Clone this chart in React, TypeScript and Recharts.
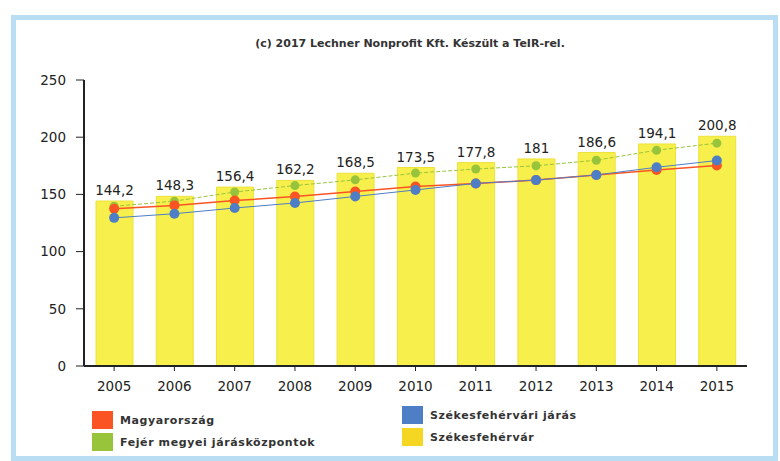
import { ComposedChart, Bar, Line, XAxis, YAxis, LabelList } from 'recharts'

const years = ['2005', '2006', '2007', '2008', '2009', '2010', '2011', '2012', '2013', '2014', '2015']
// Székesfehérvár (bars)
const szekesfehervar = [144.2, 148.3, 156.4, 162.2, 168.5, 173.5, 177.8, 181, 186.6, 194.1, 200.8]
// Fejér megyei járásközpontok
const fejer = [139.6, 144.1, 152.1, 157.7, 162.7, 168.6, 172.2, 175, 179.9, 188.6, 194.8]
// Magyarország
const magyarorszag = [137.4, 140.4, 144.6, 148.1, 152.5, 156.9, 159.6, 162.5, 167, 171.4, 175.2]
// Székesfehérvári járás
const jaras = [129.5, 133.1, 138.1, 142.5, 148.2, 153.9, 159.6, 162.5, 167, 173.7, 179.6]
const yTicks = [0, 50, 100, 150, 200, 250]

const data = years.map((y, i) => ({
  year: y,
  szfv: szekesfehervar[i],
  fejer: fejer[i],
  hu: magyarorszag[i],
  jaras: jaras[i],
}))

const FONT = '"DejaVu Sans", Verdana, sans-serif'
const RED = '#fb5424'
const GREEN = '#98c43c'
const BLUE = '#4d7ec6'
const BAR = '#f7ef4c'

const fmt = (v: number) => String(v).replace('.', ',')

function LegendItem({ x, y, color, label }: { x: number; y: number; color: string; label: string }) {
  return (
    <div style={{ position: 'absolute', left: x, top: y, display: 'flex', alignItems: 'center' }}>
      <span style={{ width: 21, height: 18, background: color, display: 'inline-block' }} />
      <span style={{ marginLeft: 7, fontSize: 11, fontWeight: 'bold', letterSpacing: 0.6, color: '#333' }}>{label}</span>
    </div>
  )
}

export default function App() {
  return (
    <div style={{ position: 'absolute', left: 0, top: 0, width: 780, height: 461, background: '#fff', fontFamily: FONT, overflow: 'hidden' }}>
      {/* scanned frame */}
      <div style={{ position: 'absolute', left: 11, top: 15, width: 757, height: 436, border: '5px solid #b9def3' }} />

      <div style={{ position: 'absolute', left: 0, top: 37, width: 820, textAlign: 'center', fontSize: 11, fontWeight: 'bold', color: '#333' }}>
        (c) 2017 Lechner Nonprofit Kft. Készült a TeIR-rel.
      </div>

      <div style={{ position: 'absolute', left: 0, top: 0 }}>
        <ComposedChart width={780} height={400} data={data} margin={{ top: 80, right: 33, bottom: 4, left: 0 }}>
          <XAxis
            dataKey="year"
            tickLine={{ stroke: '#222' }}
            axisLine={{ stroke: '#222', strokeWidth: 2 }}
            tickSize={5}
            tickMargin={10}
            height={30}
            tick={{ fontSize: 13.5, fill: '#222', fontFamily: FONT }}
          />
          <YAxis
            domain={[0, 250]}
            ticks={yTicks}
            width={84}
            tickLine={{ stroke: '#222' }}
            axisLine={{ stroke: '#222', strokeWidth: 2 }}
            tickSize={8}
            tickMargin={10}
            tick={{ fontSize: 13.5, fill: '#222', fontFamily: FONT }}
          />
          <Bar dataKey="szfv" fill={BAR} stroke="#ece23a" barSize={37} isAnimationActive={false}>
            <LabelList dataKey="szfv" position="top" offset={6} formatter={(v: number) => fmt(v)}
              style={{ fontSize: 13.5, fill: '#222', fontFamily: FONT }} />
          </Bar>
          <Line dataKey="fejer" stroke={GREEN} strokeWidth={1} strokeDasharray="4 2" isAnimationActive={false}
            dot={{ r: 4.5, fill: GREEN, stroke: GREEN, strokeWidth: 0 }} />
          <Line dataKey="hu" stroke={RED} strokeWidth={1.5} isAnimationActive={false}
            dot={{ r: 5, fill: RED, stroke: RED, strokeWidth: 0 }} />
          <Line dataKey="jaras" stroke={BLUE} strokeWidth={1} isAnimationActive={false}
            dot={{ r: 5, fill: BLUE, stroke: BLUE, strokeWidth: 0 }} />
        </ComposedChart>
      </div>

      <LegendItem x={92} y={411} color={RED} label="Magyarország" />
      <LegendItem x={92} y={433} color={GREEN} label="Fejér megyei járásközpontok" />
      <LegendItem x={402} y={406} color={BLUE} label="Székesfehérvári járás" />
      <LegendItem x={402} y={428} color="#f5d622" label="Székesfehérvár" />
    </div>
  )
}
